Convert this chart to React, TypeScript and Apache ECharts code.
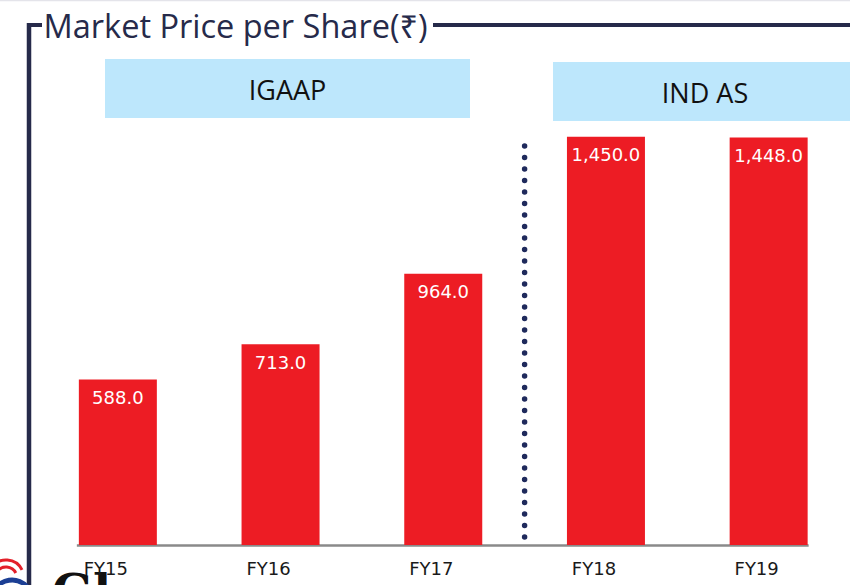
import React, { useEffect, useRef } from "react";
import * as echarts from "echarts";

const categories = ["FY15", "FY16", "FY17", "FY18", "FY19"];
const prices = [588.0, 713.0, 964.0, 1450.0, 1448.0];
const groupLabels = ["IGAAP", "IND AS"];
const titleText = "Market Price per Share(₹)";

const NAVY = "#262a4a";

export default function App() {
  const ref = useRef<HTMLDivElement>(null);
  useEffect(() => {
    if (!ref.current) return;
    const chart = echarts.init(ref.current, undefined, { renderer: "svg" });
    const fmt = (v: number) =>
      v.toLocaleString("en-US", { minimumFractionDigits: 1, maximumFractionDigits: 1 });
    chart.setOption({
      animation: false,
      backgroundColor: "#ffffff",
      grid: { left: 36.5, width: 815, top: 94.6, height: 450.4, containLabel: false },
      xAxis: {
        type: "category",
        data: categories,
        axisLine: { show: false },
        axisTick: { show: false },
        axisLabel: {
          margin: 14,
          formatter: (v: string) => `{a|${v}}{s|}`,
          rich: {
            a: { fontFamily: "DejaVu Sans", fontSize: 18, color: "#1a1a1a" },
            s: { width: 24 },
          },
        },
      },
      yAxis: { type: "value", min: 0, max: 1600, show: false, splitLine: { show: false } },
      series: [
        {
          type: "bar",
          data: prices,
          barWidth: 78,
          itemStyle: { color: "#ed1c24" },
          label: {
            show: true,
            position: "insideTop",
            distance: 9,
            color: "#ffffff",
            fontFamily: "DejaVu Sans",
            fontSize: 18,
            formatter: (p: any) => fmt(p.value),
          },
        },
      ],
    });

    const c0 = chart.convertToPixel({ xAxisIndex: 0 }, categories[0]) as number;
    const c2 = chart.convertToPixel({ xAxisIndex: 0 }, categories[2]) as number;
    const c3 = chart.convertToPixel({ xAxisIndex: 0 }, categories[3]) as number;
    const c4 = chart.convertToPixel({ xAxisIndex: 0 }, categories[4]) as number;
    const y0 = chart.convertToPixel({ yAxisIndex: 0 }, 0) as number;
    const dotX = (c2 + c3) / 2;

    chart.setOption({
      graphic: [
        { type: "line", shape: { x1: 0, y1: 0.5, x2: 850, y2: 0.5 }, style: { stroke: "#e4e4ea", lineWidth: 1.5 } },
        { type: "line", shape: { x1: 29, y1: 23, x2: 29, y2: 585 }, style: { stroke: NAVY, lineWidth: 4.5 } },
        { type: "line", shape: { x1: 27, y1: 25, x2: 42, y2: 25 }, style: { stroke: NAVY, lineWidth: 4 } },
        { type: "line", shape: { x1: 433, y1: 25, x2: 850, y2: 25 }, style: { stroke: NAVY, lineWidth: 4 } },
        {
          type: "text",
          x: 43.5,
          y: 25,
          style: {
            text: titleText,
            font: "32.5px 'Open Sans', 'Noto Sans', 'DejaVu Sans'",
            fill: NAVY,
            textVerticalAlign: "middle",
          },
        },
        { type: "rect", shape: { x: 105, y: 59, width: 365, height: 59 }, style: { fill: "#bde7fc" } },
        {
          type: "text",
          x: 287.5,
          y: 89,
          style: { text: groupLabels[0], font: "27px 'Open Sans'", fill: "#111111", textAlign: "center", textVerticalAlign: "middle" },
        },
        { type: "rect", shape: { x: 553, y: 62, width: 297, height: 59 }, style: { fill: "#bde7fc" } },
        {
          type: "text",
          x: 705,
          y: 92,
          style: { text: groupLabels[1], font: "27px 'Open Sans'", fill: "#111111", textAlign: "center", textVerticalAlign: "middle" },
        },
        {
          type: "line",
          shape: { x1: dotX, y1: 146, x2: dotX, y2: y0 },
          style: { stroke: "#1f2a5c", lineWidth: 5.5, lineDash: [0.1, 11.4], lineCap: "round" },
        },
        {
          type: "line",
          shape: { x1: c0 - 41, y1: y0 + 0.5, x2: c4 + 40, y2: y0 + 0.5 },
          style: { stroke: "#8a8a8a", lineWidth: 2.5 },
        },
        // partial logo at bottom-left
        { type: "arc", shape: { cx: 6, cy: 578, r: 18, startAngle: -Math.PI * 0.8, endAngle: -Math.PI * 0.15 }, style: { stroke: "#e3202a", lineWidth: 3, fill: "none" } },
        { type: "arc", shape: { cx: 6, cy: 578, r: 11, startAngle: -Math.PI * 0.8, endAngle: -Math.PI * 0.15 }, style: { stroke: "#e3202a", lineWidth: 3, fill: "none" } },
        { type: "arc", shape: { cx: 12, cy: 600, r: 20, startAngle: -Math.PI * 0.9, endAngle: -Math.PI * 0.2 }, style: { stroke: "#1c3f94", lineWidth: 5, fill: "none" } },
        {
          type: "text",
          x: 52,
          y: 568,
          style: { text: "Gl", font: "bold 48px 'DejaVu Serif', serif", fill: "#111111" },
        },
      ],
    });
    return () => chart.dispose();
  }, []);
  return (
    <div
      ref={ref}
      style={{ position: "fixed", left: 0, top: 0, width: 850, height: 585 }}
    />
  );
}
